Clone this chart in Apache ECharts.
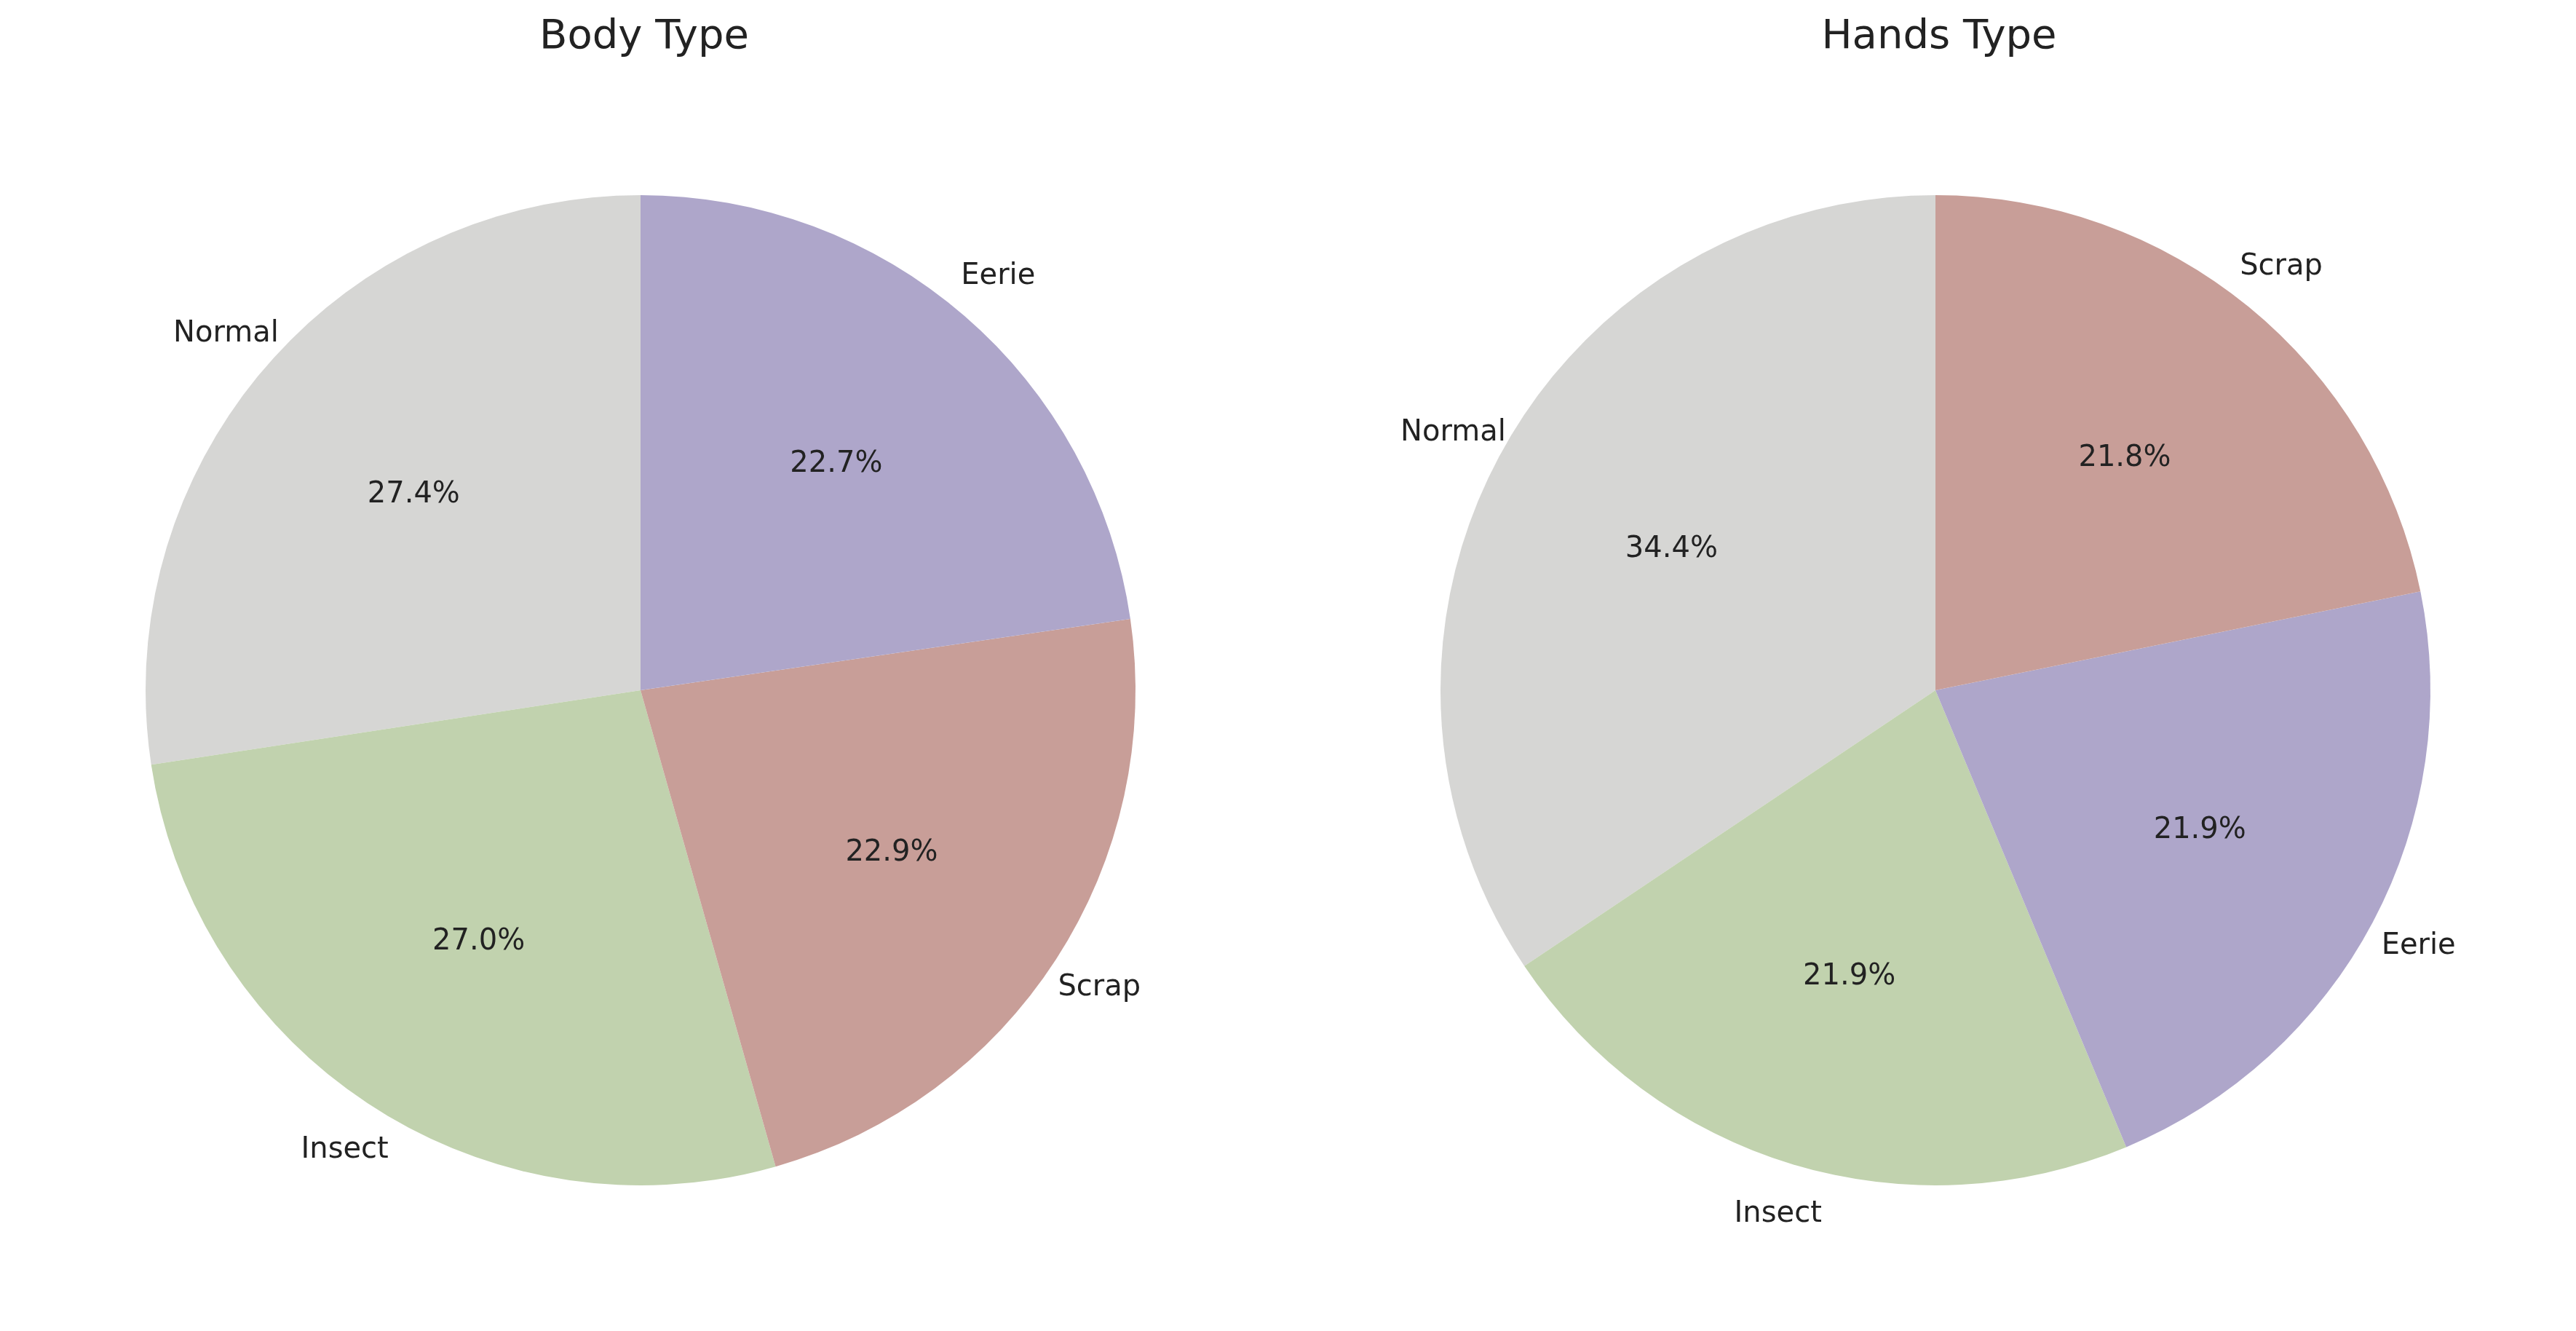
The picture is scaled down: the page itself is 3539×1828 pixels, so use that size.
<!DOCTYPE html>
<html><head><meta charset="utf-8">
<script src="https://cdn.jsdelivr.net/npm/echarts@6/dist/echarts.min.js"></script>
<style>html,body{margin:0;padding:0;background:#fff}#c{width:3539px;height:1828px}</style>
</head><body><div id="c"></div>
<script>
const bodyCategories = ['Normal','Insect','Scrap','Eerie'];
const bodyValues = [27.4, 27.0, 22.9, 22.7];
const handsCategories = ['Normal','Insect','Eerie','Scrap'];
const handsValues = [34.4, 21.9, 21.9, 21.8];
const colorMap = {Normal:'#d6d6d4', Insect:'#c1d2ae', Scrap:'#c89e98', Eerie:'#aea6ca'};

const R = 680;
const font = {fontFamily:'DejaVu Sans, Liberation Sans', color:'#222'};
function pies(cats, vals, cx){
  const base = {type:'pie', center:[cx, 948], startAngle:90, clockwise:false, animation:false, silent:true};
  const main = Object.assign({}, base, {radius:R, label:{show:false}, labelLine:{show:false},
    data: cats.map((c,i)=>({name:c, value:vals[i], itemStyle:{color:colorMap[c]}}))});
  const pct = Object.assign({}, base, {radius:R*1.2, z:3,
    label:{show:true, position:'inside', formatter:p=>p.value.toFixed(1)+'%', fontSize:40, ...font},
    labelLine:{show:false},
    data: cats.map((c,i)=>({name:c, value:vals[i], itemStyle:{color:'transparent'}}))});
  let cum = 0;
  const total = vals.reduce((a,b)=>a+b,0);
  const lab = Object.assign({}, base, {radius:R*2.2, z:3,
    label:{show:true, position:'inside', formatter:'{b}', fontSize:40, ...font},
    labelLine:{show:false},
    data: cats.map((c,i)=>{
      const mid = 90 + (cum + vals[i]/2)/total*360; cum += vals[i];
      const x = Math.cos(mid*Math.PI/180);
      return {name:c, value:vals[i], itemStyle:{color:'transparent'},
        label:{align: x<0?'right':'left'}};
    })});
  return [lab, main, pct];
}
const chart = echarts.init(document.getElementById('c'));
chart.setOption({
  backgroundColor:'#fff',
  title:[
    {text:'Body Type', left:880, top:18, textAlign:'center', textStyle:{fontSize:56, fontWeight:'normal', ...font}},
    {text:'Hands Type', left:2659, top:18, textAlign:'center', textStyle:{fontSize:56, fontWeight:'normal', ...font}}
  ],
  series:[...pies(bodyCategories, bodyValues, 880), ...pies(handsCategories, handsValues, 2659)]
});
</script></body></html>
